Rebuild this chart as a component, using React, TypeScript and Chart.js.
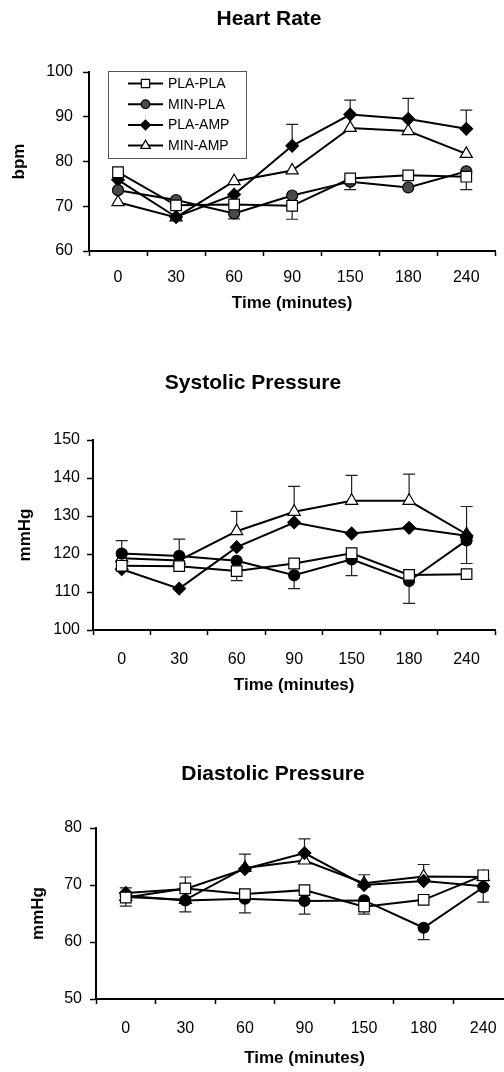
import React, { useEffect, useRef } from "react";
import { Chart, registerables } from "chart.js";

Chart.register(...registerables);

// ---------- DATA ----------
const timeLabels = ["0", "30", "60", "90", "150", "180", "240"];
const seriesNames = ["PLA-PLA", "MIN-PLA", "PLA-AMP", "MIN-AMP"];

// Heart Rate (bpm)
const hrPlaPla = [77.6, 70.2, 70.4, 70.1, 76.2, 76.9, 76.6];
const hrMinPla = [73.6, 71.4, 68.4, 72.4, 75.5, 74.2, 77.8];
const hrPlaAmp = [75.9, 67.6, 72.6, 83.5, 90.5, 89.5, 87.3];
const hrMinAmp = [70.9, 67.5, 75.6, 78.0, 87.5, 86.8, 81.7];
// signed SEM (positive = drawn upwards, negative = downwards, 0 = none)
const hrErrPlaPla = [0, 0, 0, -3.0, 0, 0, -2.9];
const hrErrMinPla = [0, 0, -1.2, 0, -1.8, 0, 0];
const hrErrPlaAmp = [0, 0, 0, 4.8, 3.2, 4.6, 4.2];
const hrErrMinAmp = [0, 0, 0, 0, 0, 0, 0];

// Systolic Pressure (mmHg)
const sysPlaPla = [116.9, 116.8, 115.5, 117.5, 120.2, 114.5, 114.7];
const sysMinPla = [120.1, 119.5, 118.2, 114.4, 118.6, 112.9, 123.6];
const sysPlaAmp = [116.0, 110.9, 121.8, 128.3, 125.4, 126.9, 124.8];
const sysMinAmp = [118.9, 118.3, 126.0, 131.1, 134.0, 134.0, 125.2];
const sysErrPlaPla = [0, 0, -2.5, 0, 0, 0, 0];
const sysErrMinPla = [3.4, 4.4, 0, -3.5, -4.3, -5.9, -6.1];
const sysErrPlaAmp = [0, 0, 0, 0, 0, 0, 0];
const sysErrMinAmp = [0, 0, 5.2, 6.7, 6.7, 7.0, 7.3];

// Diastolic Pressure (mmHg)
const diaPlaPla = [67.8, 69.4, 68.4, 69.1, 66.2, 67.4, 71.7];
const diaMinPla = [68.1, 67.3, 67.6, 67.2, 67.3, 62.5, 69.6];
const diaPlaAmp = [68.6, 69.3, 72.8, 75.6, 70.0, 70.7, 69.8];
const diaMinAmp = [67.9, 67.4, 73.0, 74.3, 70.3, 71.5, 71.4];
const diaErrPlaPla = [0, 0, 0, 0, -1.3, 0, 0];
const diaErrMinPla = [-1.8, -2.0, -2.5, -2.3, 0, -2.1, -2.6];
const diaErrPlaAmp = [0.9, 2.1, 0, 2.5, 0, 0, 0];
const diaErrMinAmp = [0, 0, 2.4, 0, 1.5, 2.1, 0];

// ---------- STYLE ----------
const FONT = "'Liberation Sans', Arial, Helvetica, sans-serif";
const markerStyles = [
  { pointStyle: "rect", radius: 7.5, fill: "#ffffff" },
  { pointStyle: "circle", radius: 5.5, fill: "#000000" },
  { pointStyle: "rectRot", radius: 6.3, fill: "#000000" },
  { pointStyle: "triangle", radius: 7, fill: "#ffffff" },
];

const errorBarPlugin = {
  id: "errorBars",
  beforeDatasetsDraw(chart: any) {
    const ctx = chart.ctx;
    const yScale = chart.scales.y;
    ctx.save();
    ctx.strokeStyle = "#222";
    ctx.lineWidth = 1.2;
    chart.data.datasets.forEach((ds: any, di: number) => {
      const meta = chart.getDatasetMeta(di);
      const errs: number[] = ds.errors || [];
      meta.data.forEach((pt: any, i: number) => {
        const e = errs[i];
        if (!e) return;
        const v = ds.data[i];
        const x = pt.x;
        const y0 = yScale.getPixelForValue(v);
        const y1 = yScale.getPixelForValue(v + e);
        ctx.beginPath();
        ctx.moveTo(x, y0);
        ctx.lineTo(x, y1);
        ctx.moveTo(x - 6, y1);
        ctx.lineTo(x + 6, y1);
        ctx.stroke();
      });
    });
    ctx.restore();
  },
};

function drawMarker(ctx: CanvasRenderingContext2D, style: string, r: number, x: number, y: number) {
  ctx.beginPath();
  if (style === "rect") {
    const s = Math.SQRT1_2 * r;
    ctx.rect(x - s, y - s, 2 * s, 2 * s);
  } else if (style === "circle") {
    ctx.arc(x, y, r, 0, Math.PI * 2);
  } else if (style === "rectRot") {
    ctx.moveTo(x - r, y);
    ctx.lineTo(x, y - r);
    ctx.lineTo(x + r, y);
    ctx.lineTo(x, y + r);
    ctx.closePath();
  } else if (style === "triangle") {
    let a = 0;
    ctx.moveTo(x + Math.sin(a) * r, y - Math.cos(a) * r);
    a += (2 * Math.PI) / 3;
    ctx.lineTo(x + Math.sin(a) * r, y - Math.cos(a) * r);
    a += (2 * Math.PI) / 3;
    ctx.lineTo(x + Math.sin(a) * r, y - Math.cos(a) * r);
    ctx.closePath();
  }
  ctx.fill();
  ctx.stroke();
}

const boxLegendPlugin = {
  id: "boxLegend",
  afterDraw(chart: any, _args: any, opts: any) {
    if (!opts || !opts.show) return;
    const ctx = chart.ctx;
    const area = chart.chartArea;
    const left = area.left + opts.dx;
    const top = area.top + opts.dy;
    ctx.save();
    ctx.strokeStyle = "#555";
    ctx.lineWidth = 1;
    ctx.strokeRect(left + 0.5, top + 0.5, opts.w, opts.h);
    ctx.font = `14px ${FONT}`;
    ctx.textBaseline = "middle";
    ctx.textAlign = "left";
    chart.data.datasets.forEach((ds: any, i: number) => {
      const y = top + 12.5 + i * 20.7;
      ctx.strokeStyle = "#000";
      ctx.lineWidth = 2;
      ctx.beginPath();
      ctx.moveTo(left + 20, y);
      ctx.lineTo(left + 55, y);
      ctx.stroke();
      ctx.fillStyle = ds.pointBackgroundColor;
      ctx.strokeStyle = "#000";
      ctx.lineWidth = 1.2;
      drawMarker(ctx, ds.pointStyle, ds.pointRadius * 0.78, left + 37.5, y);
      ctx.fillStyle = "#000";
      ctx.fillText(ds.label, left + 60, y + 0.5);
    });
    ctx.restore();
  },
};

type Panel = {
  title: string;
  yTitle: string;
  series: number[][];
  errors: number[][];
  yMin: number;
  yMax: number;
  circleFill: string;
  top: number;
  width: number;
  height: number;
  layout: {
    titlePadTop: number;
    titlePadBottom: number;
    padLeft: number;
    yWidth: number;
    yTitlePad: number;
    yTickPad: number;
    xHeight: number;
    xTickPad: number;
    xTitlePadBottom: number;
    padRight: number;
    padBottom: number;
  };
  legend: boolean;
};

const panels: Panel[] = [
  {
    title: "Heart Rate",
    yTitle: "bpm",
    series: [hrPlaPla, hrMinPla, hrPlaAmp, hrMinAmp],
    errors: [hrErrPlaPla, hrErrMinPla, hrErrPlaAmp, hrErrMinAmp],
    yMin: 60,
    yMax: 100,
    circleFill: "#4a4a4a",
    top: 0,
    width: 504,
    height: 330,
    layout: {
      titlePadTop: 6.4,
      titlePadBottom: 40.4,
      padLeft: 41,
      yWidth: 48,
      yTitlePad: -31.8,
      yTickPad: 10,
      xHeight: 70,
      xTickPad: 12,
      xTitlePadBottom: 7,
      padRight: 7,
      padBottom: 9,
    },
    legend: true,
  },
  {
    title: "Systolic Pressure",
    yTitle: "mmHg",
    series: [sysPlaPla, sysMinPla, sysPlaAmp, sysMinAmp],
    errors: [sysErrPlaPla, sysErrMinPla, sysErrPlaAmp, sysErrMinAmp],
    yMin: 100,
    yMax: 150,
    circleFill: "#000000",
    top: 345,
    width: 504,
    height: 370,
    layout: {
      titlePadTop: 25.4,
      titlePadBottom: 44.4,
      padLeft: 4,
      yWidth: 89,
      yTitlePad: 11.3,
      yTickPad: 7,
      xHeight: 70,
      xTickPad: 15,
      xTitlePadBottom: 4,
      padRight: 2,
      padBottom: 15,
    },
    legend: false,
  },
  {
    title: "Diastolic Pressure",
    yTitle: "mmHg",
    series: [diaPlaPla, diaMinPla, diaPlaAmp, diaMinAmp],
    errors: [diaErrPlaPla, diaErrMinPla, diaErrPlaAmp, diaErrMinAmp],
    yMin: 50,
    yMax: 80,
    circleFill: "#000000",
    top: 730,
    width: 544,
    height: 360,
    layout: {
      titlePadTop: 31.4,
      titlePadBottom: 41.4,
      padLeft: 33,
      yWidth: 63,
      yTitlePad: -5.2,
      yTickPad: 8,
      xHeight: 80,
      xTickPad: 15,
      xTitlePadBottom: 10,
      padRight: 31,
      padBottom: 11,
    },
    legend: false,
  },
];

function makeConfig(p: Panel): any {
  const L = p.layout;
  const datasets = p.series.map((vals, i) => {
    const m = markerStyles[i];
    const fill = m.pointStyle === "circle" ? p.circleFill : m.fill;
    return {
      label: seriesNames[i],
      data: vals,
      errors: p.errors[i],
      borderColor: "#000",
      borderWidth: 2,
      tension: 0,
      fill: false,
      pointStyle: m.pointStyle,
      pointRadius: m.radius,
      pointBackgroundColor: fill,
      pointBorderColor: "#000",
      pointBorderWidth: 1.2,
    };
  });
  return {
    type: "line",
    data: { labels: timeLabels, datasets },
    plugins: [errorBarPlugin, boxLegendPlugin],
    options: {
      animation: false,
      responsive: false,
      maintainAspectRatio: false,
      devicePixelRatio: 1,
      events: [],
      layout: { padding: { left: L.padLeft, top: 0, right: L.padRight, bottom: L.padBottom } },
      plugins: {
        legend: { display: false },
        tooltip: { enabled: false },
        title: {
          display: true,
          text: p.title,
          color: "#000",
          font: { family: FONT, size: 21, weight: "bold" },
          padding: { top: L.titlePadTop, bottom: L.titlePadBottom },
        },
        boxLegend: { show: p.legend, dx: 19, dy: -1, w: 138, h: 87 },
      },
      scales: {
        x: {
          type: "category",
          offset: true,
          grid: {
            offset: true,
            drawOnChartArea: false,
            drawTicks: true,
            tickLength: 5,
            color: "#000",
            tickWidth: 1.5,
          },
          border: { display: true, color: "#000", width: 2 },
          ticks: { color: "#000", font: { family: FONT, size: 16 }, padding: L.xTickPad, maxRotation: 0 },
          title: {
            display: true,
            text: "Time (minutes)",
            color: "#000",
            font: { family: FONT, size: 17, weight: "bold" },
            padding: { top: 0, bottom: L.xTitlePadBottom },
          },
          afterFit: (s: any) => {
            s.height = L.xHeight;
          },
        },
        y: {
          min: p.yMin,
          max: p.yMax,
          grid: {
            drawOnChartArea: false,
            drawTicks: true,
            tickLength: 6,
            color: "#000",
            tickWidth: 1.5,
          },
          border: { display: true, color: "#000", width: 2 },
          ticks: { stepSize: 10, color: "#000", font: { family: FONT, size: 16 }, padding: L.yTickPad },
          title: {
            display: true,
            text: p.yTitle,
            color: "#000",
            font: { family: FONT, size: 17, weight: "bold" },
            padding: { top: L.yTitlePad, bottom: 0 },
          },
          afterFit: (s: any) => {
            s.width = L.yWidth;
          },
        },
      },
    },
  };
}

function ChartPanel({ panel }: { panel: Panel }) {
  const ref = useRef<HTMLCanvasElement | null>(null);
  useEffect(() => {
    if (!ref.current) return;
    const chart = new Chart(ref.current, makeConfig(panel));
    return () => chart.destroy();
  }, [panel]);
  return (
    <canvas
      ref={ref}
      width={panel.width}
      height={panel.height}
      style={{
        position: "absolute",
        left: 0,
        top: panel.top,
        width: panel.width,
        height: panel.height,
        display: "block",
      }}
    />
  );
}

export default function App() {
  return (
    <div
      style={{
        position: "fixed",
        left: 0,
        top: 0,
        width: 504,
        height: 1072,
        overflow: "hidden",
        background: "#fff",
      }}
    >
      {panels.map((p, i) => (
        <ChartPanel key={i} panel={p} />
      ))}
    </div>
  );
}
